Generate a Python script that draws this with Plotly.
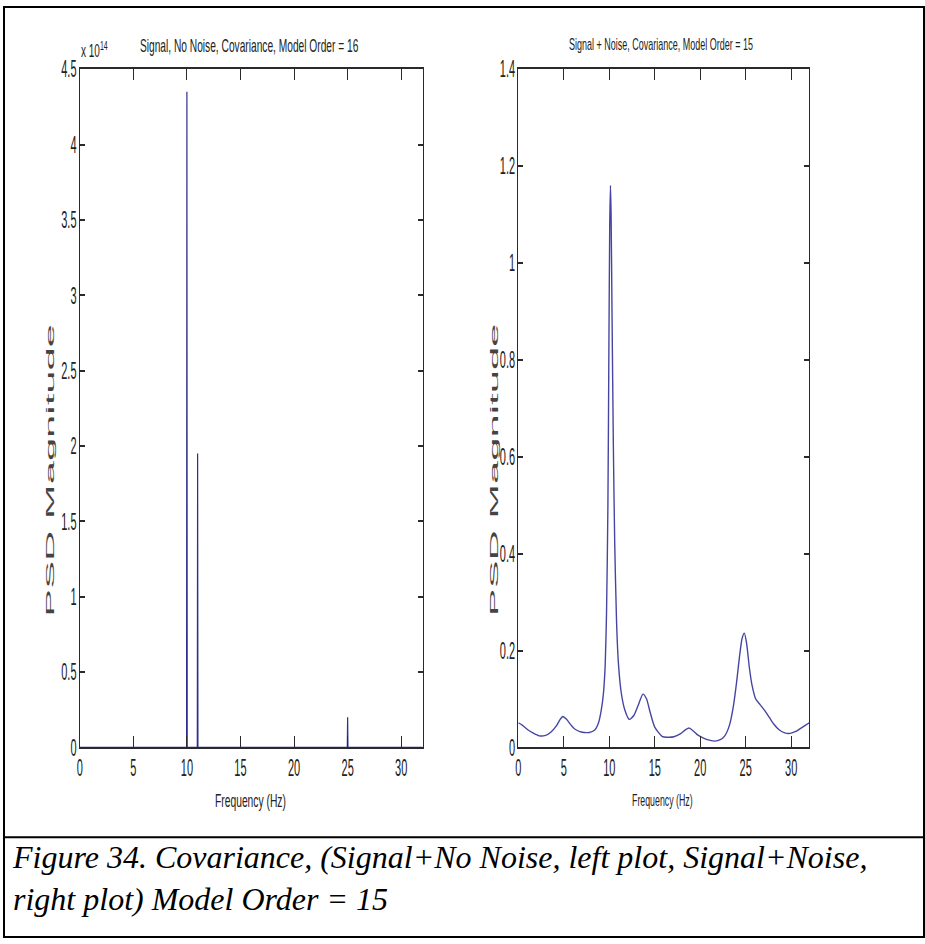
import plotly.graph_objects as go

# ---- data -----------------------------------------------------------------
# Left panel: covariance PSD of the clean signal (model order 16); nearly all
# of the spectrum is zero apart from three very narrow spikes.
freq_clean = [0.0, 9.97, 10.0, 10.03, 10.97, 11.0, 11.03, 24.97, 25.0, 25.03, 32.0]
psd_clean = [0.0, 0.0, 4.35e14, 0.0, 0.0, 1.95e14, 0.0, 0.0, 0.2e14, 0.0, 0.0]

# Right panel: covariance PSD of signal + noise (model order 15).
freq_noisy = [0.0, 0.5, 1.0, 1.6, 2.3, 3.0, 3.6, 4.2, 4.6, 4.9, 5.3, 5.8, 6.2, 6.9,
              7.8, 8.4, 8.8, 9.1, 9.35, 9.55, 9.7, 9.85, 9.95, 10.05, 10.13, 10.2,
              10.3, 10.45, 10.6, 10.8, 11.0, 11.3, 11.7, 12.2, 12.7, 13.2, 13.7,
              14.1, 14.5, 15.0, 15.8, 16.5, 17.1, 17.8, 18.4, 18.8, 19.3, 19.7,
              20.3, 21.0, 21.6, 22.2, 22.7, 23.2, 23.6, 24.0, 24.3, 24.6, 24.85,
              25.1, 25.4, 25.7, 26.1, 26.6, 27.1, 27.6, 28.1, 28.7, 29.3, 29.9,
              30.5, 31.0, 31.5, 32.0]
psd_noisy = [0.051, 0.045, 0.037, 0.030, 0.024, 0.025, 0.032, 0.045, 0.058, 0.064, 0.058,
             0.046, 0.038, 0.032, 0.031, 0.036, 0.050, 0.075, 0.11, 0.17, 0.28, 0.50,
             0.80, 1.08, 1.16, 1.10, 0.90, 0.62, 0.42, 0.26, 0.175, 0.115, 0.078,
             0.058, 0.066, 0.088, 0.11, 0.100, 0.072, 0.042, 0.023, 0.021, 0.022,
             0.028, 0.037, 0.040, 0.033, 0.026, 0.020, 0.015, 0.013, 0.016, 0.024,
             0.045, 0.080, 0.135, 0.185, 0.225, 0.236, 0.215, 0.165, 0.128, 0.100,
             0.088, 0.076, 0.062, 0.048, 0.036, 0.030, 0.029, 0.033, 0.039, 0.045, 0.051]

x_ticks = [0, 5, 10, 15, 20, 25, 30]
y_ticks_clean = [0, 0.5, 1, 1.5, 2, 2.5, 3, 3.5, 4, 4.5]
y_ticks_noisy = [0, 0.2, 0.4, 0.6, 0.8, 1, 1.2, 1.4]
clean_exponent = 14

titles = ["Signal, No Noise, Covariance, Model Order = 16",
          "Signal + Noise, Covariance, Model Order = 15"]
x_label = "Frequency (Hz)"
y_label = "PSD Magnitude"
caption = ("Figure 34. Covariance, (Signal+No Noise, left plot, Signal+Noise,<br>"
           "right plot) Model Order = 15")

# ---- figure ---------------------------------------------------------------
W, H = 925, 944
SANS = "Liberation Sans, Arial, Helvetica, sans-serif"
TICK_FONT = dict(family=SANS, size=11, color="#222")


def px_x(p):
    return p / W


def px_y(p):
    return 1 - p / H


fig = go.Figure()
fig.add_trace(go.Scatter(x=freq_clean, y=psd_clean, mode="lines",
                         line=dict(color="#2e2e8c", width=1.2),
                         xaxis="x", yaxis="y", showlegend=False))
fig.add_trace(go.Scatter(x=freq_noisy, y=psd_noisy, mode="lines",
                         line=dict(color="#4646a2", width=1.4, shape="spline", smoothing=0.6),
                         xaxis="x2", yaxis="y2", showlegend=False))

# The panels are tall and narrow: horizontal strokes come out heavier than
# vertical ones, so the x and y axes get different line weights.
x_common = dict(showline=True, linecolor="#2a2a2a", linewidth=2.2, mirror="ticks",
                ticks="inside", ticklen=11, tickwidth=1, tickcolor="#2a2a2a",
                showgrid=False, zeroline=False, tickfont=TICK_FONT,
                ticklabelstandoff=9)
y_common = dict(showline=True, linecolor="#2a2a2a", linewidth=1.1, mirror="ticks",
                ticks="inside", ticklen=5, tickwidth=1.6, tickcolor="#2a2a2a",
                showgrid=False, zeroline=False, tickfont=TICK_FONT)

y_bottom, y_top = 751, 64
fig.update_layout(
    width=W, height=H,
    margin=dict(l=0, r=0, t=0, b=0),
    paper_bgcolor="white", plot_bgcolor="white",
    xaxis=dict(domain=[px_x(77), px_x(421)], range=[0, 32], tickvals=x_ticks,
               anchor="y", **x_common),
    yaxis=dict(domain=[px_y(y_bottom), px_y(y_top)], range=[0, 4.5 * 10 ** clean_exponent],
               tickvals=[v * 10 ** clean_exponent for v in y_ticks_clean],
               ticktext=[f"{v:g}" for v in y_ticks_clean], anchor="x", **y_common),
    xaxis2=dict(domain=[px_x(517), px_x(809)], range=[0, 32], tickvals=x_ticks,
                anchor="y2", **x_common),
    yaxis2=dict(domain=[px_y(y_bottom), px_y(y_top)], range=[0, 1.4],
                tickvals=y_ticks_noisy, ticktext=[f"{v:g}" for v in y_ticks_noisy],
                anchor="x2", **y_common),
)

annotations = []
for cx, text, size in zip([247, 660], titles, [10.2, 9]):
    annotations.append(dict(x=px_x(cx), y=px_y(40), xref="paper", yref="paper",
                            text=text, showarrow=False,
                            font=dict(family=SANS, size=size, color="#222"),
                            xanchor="center", yanchor="middle"))
for cx, size in zip([248, 662], [10.3, 8.8]):
    annotations.append(dict(x=px_x(cx), y=px_y(805), xref="paper", yref="paper",
                            text=x_label, showarrow=False,
                            font=dict(family=SANS, size=size, color="#222"),
                            xanchor="center", yanchor="middle"))
for cx in [47, 493]:
    annotations.append(dict(x=px_x(cx), y=px_y(470), xref="paper", yref="paper",
                            text=y_label, showarrow=False, textangle=-90,
                            font=dict(family=SANS, size=11, color="#444"),
                            xanchor="center", yanchor="middle"))
annotations.append(dict(x=px_x(76), y=px_y(45), xref="paper", yref="paper",
                        text=f"x 10<sup>{clean_exponent}</sup>", showarrow=False,
                        font=dict(family=SANS, size=10, color="#222"),
                        xanchor="left", yanchor="middle"))
annotations.append(dict(x=px_x(7), y=px_y(883), xref="paper", yref="paper",
                        text=caption, showarrow=False, align="left",
                        font=dict(family="Liberation Serif, Times New Roman, serif",
                                  size=32, color="black", style="italic"),
                        xanchor="left", yanchor="middle"))
fig.update_layout(annotations=annotations)

fig.update_layout(shapes=[
    dict(type="rect", xref="paper", yref="paper", x0=px_x(1), x1=px_x(924),
         y0=px_y(943), y1=px_y(1), line=dict(color="black", width=2)),
    dict(type="line", xref="paper", yref="paper", x0=0, x1=1,
         y0=px_y(842), y1=px_y(842), line=dict(color="black", width=2)),
])

# The plot labels use tall, narrow lettering: stretch every chart text about
# its own centre (the caption keeps its normal proportions).
stretch_js = """
(function () {
  var gd = document.getElementById('{plot_id}');
  function stretchAll() {
    var texts = gd.querySelectorAll('svg.main-svg text');
    texts.forEach(function (el) {
      var t = el.textContent || '';
      if (t.indexOf('Figure') >= 0) return;
      var cur = el.getAttribute('transform') || '';
      if (el.__applied !== undefined && cur === el.__applied) return;
      var sx = 1, sy = 2.1;
      if (t === 'PSD Magnitude') { sx = 3.8; sy = 1; }
      else if (el.classList.contains('annotation-text')) { sy = 1.8; }
      var b = el.getBBox();
      var cx = b.x + b.width / 2, cy = b.y + b.height / 2;
      var tr = cur + ' translate(' + cx + ',' + cy + ') scale(' + sx + ',' + sy +
               ') translate(' + (-cx) + ',' + (-cy) + ')';
      el.setAttribute('transform', tr.trim());
      el.__applied = el.getAttribute('transform');
    });
  }
  stretchAll();
  setTimeout(stretchAll, 0);
  if (gd.on) gd.on('plotly_afterplot', stretchAll);
})();
"""

fig.write_html("out.html", post_script=stretch_js)
